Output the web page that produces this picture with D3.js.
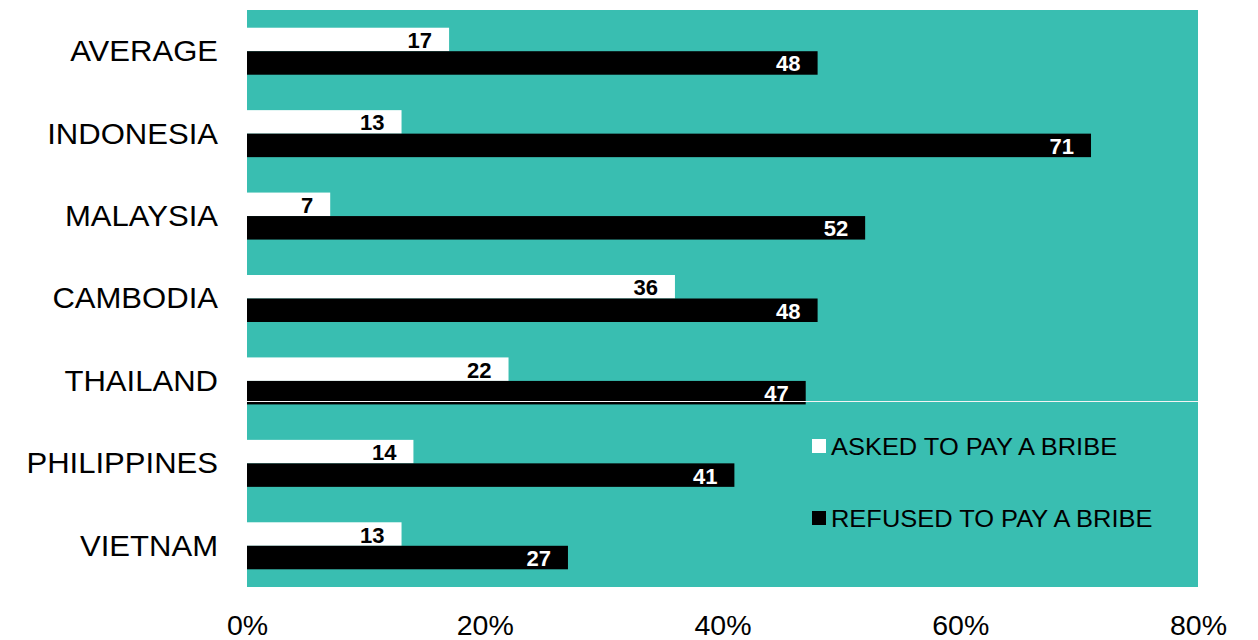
<!DOCTYPE html>
<html>
<head>
<meta charset="utf-8">
<script src="https://cdn.jsdelivr.net/npm/d3@7"></script>
<style>
  html, body { margin: 0; padding: 0; background: #ffffff; }
  svg { display: block; font-family: "Liberation Sans", Arial, sans-serif; }
</style>
</head>
<body>
<svg id="chart" width="1258" height="640"></svg>
<script>
// Share of respondents (%) by country
const countries = ["AVERAGE", "INDONESIA", "MALAYSIA", "CAMBODIA", "THAILAND", "PHILIPPINES", "VIETNAM"];
const askedToPay = [17, 13, 7, 36, 22, 14, 13];
const refusedToPay = [48, 71, 52, 48, 47, 41, 27];
const seriesNames = ["ASKED TO PAY A BRIBE", "REFUSED TO PAY A BRIBE"];
const tickValues = [0, 20, 40, 60, 80];

const svg = d3.select("#chart");
const plot = { left: 247, right: 1198, top: 10, bottom: 587 };

const x = d3.scaleLinear().domain([0, 80]).range([plot.left, plot.right]);
const y = d3.scaleBand().domain(countries).range([plot.top, plot.bottom]).paddingInner(0).paddingOuter(0);
const barH = 23.5;

// widen glyphs slightly (text set in a wide sans)
function widen(sel, k) {
  sel.each(function () {
    const w = this.getComputedTextLength();
    d3.select(this).attr("textLength", w * k).attr("lengthAdjust", "spacingAndGlyphs");
  });
}

// plot background
svg.append("rect")
  .attr("x", plot.left).attr("y", plot.top)
  .attr("width", plot.right - plot.left).attr("height", plot.bottom - plot.top)
  .attr("fill", "#39BEB1");

const series = [
  { name: seriesNames[0], values: askedToPay, fill: "#ffffff", text: "#000000", offset: -barH },
  { name: seriesNames[1], values: refusedToPay, fill: "#000000", text: "#ffffff", offset: 0 }
];

series.forEach(s => {
  const g = svg.append("g");
  const rows = countries.map((c, i) => ({ c, v: s.values[i] }));
  g.selectAll("rect").data(rows).join("rect")
    .attr("x", x(0))
    .attr("y", d => y(d.c) + y.bandwidth() / 2 + s.offset)
    .attr("width", d => x(d.v) - x(0))
    .attr("height", barH)
    .attr("fill", s.fill);
  g.selectAll("text").data(rows).join("text")
    .attr("x", d => x(d.v) - 17)
    .attr("y", d => y(d.c) + y.bandwidth() / 2 + s.offset + barH / 2 + 8.5)
    .attr("text-anchor", "end")
    .attr("font-size", 22)
    .attr("font-weight", "bold")
    .attr("fill", s.text)
    .text(d => d.v);
});

// thin separator line across the plot
svg.append("line")
  .attr("x1", plot.left).attr("x2", plot.right)
  .attr("y1", 401.5).attr("y2", 401.5)
  .attr("stroke", "#f4f4f4").attr("stroke-width", 1);

// category axis
const yAxis = svg.append("g")
  .attr("transform", `translate(${plot.left},0)`)
  .call(d3.axisLeft(y).tickSize(0).tickPadding(29));
yAxis.select(".domain").remove();
yAxis.selectAll("text")
  .attr("font-size", 30)
  .attr("font-family", "Liberation Sans, Arial, sans-serif")
  .attr("fill", "#000")
  .attr("dy", "0.33em")
  .call(widen, 1.035);

// value axis
const xAxis = svg.append("g")
  .attr("transform", `translate(0,${plot.bottom})`)
  .call(d3.axisBottom(x).tickValues(tickValues).tickFormat(d => d + "%").tickSize(0).tickPadding(28));
xAxis.select(".domain").remove();
xAxis.selectAll("text")
  .attr("font-size", 28.5)
  .attr("font-family", "Liberation Sans, Arial, sans-serif")
  .attr("fill", "#000");

// legend
const legend = svg.append("g");
const legendRows = [
  { name: seriesNames[0], fill: "#ffffff", y: 446 },
  { name: seriesNames[1], fill: "#000000", y: 518 }
];
legendRows.forEach(r => {
  legend.append("rect")
    .attr("x", 812).attr("y", r.y - 7).attr("width", 14).attr("height", 14)
    .attr("fill", r.fill);
  legend.append("text")
    .attr("x", 831).attr("y", r.y + 8.5)
    .attr("font-size", 24)
    .attr("fill", "#000")
    .text(r.name)
    .call(widen, 1.06);
});
</script>
</body>
</html>
